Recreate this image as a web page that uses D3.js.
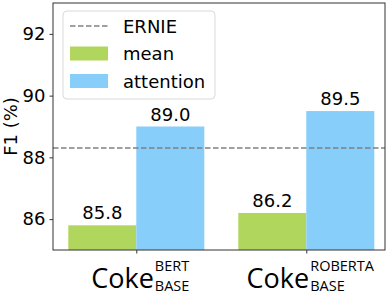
<!DOCTYPE html>
<html>
<head>
<meta charset="utf-8">
<script src="https://cdn.jsdelivr.net/npm/d3@7"></script>
<style>
  body { margin: 0; background: #fff; }
  svg { display: block; }
  .tick text { font-family: "DejaVu Sans"; font-size: 18px; fill: #000; }
</style>
</head>
<body>
<div id="chart"></div>
<script>
// data
const models = ["BERT", "ROBERTA"]
const series = ["mean", "attention"]
const meanValues = [85.8, 86.2]
const attentionValues = [89.0, 89.5]
const ernieValue = 88.3
const yTicks = [86, 88, 90, 92]
const colors = { mean: "#b1d65e", attention: "#87cefa" }

const W = 390, H = 301
const margin = { top: 3, right: 5, bottom: 51, left: 53 }
const width = W - margin.left - margin.right
const height = H - margin.top - margin.bottom

const svg = d3.select("#chart").append("svg")
    .attr("width", W)
    .attr("height", H)

const g = svg.append("g")
    .attr("transform", "translate(" + margin.left + "," + margin.top + ")")

const barW = 0.4
const xScale = d3.scaleLinear().domain([-0.49, 1.463]).range([0, width])
const yScale = d3.scaleLinear().domain([85, 93]).range([height, 0])

const rows = models.map((m, i) => ({ i: i, mean: meanValues[i], attention: attentionValues[i] }))

// bars
series.forEach((s, k) => {
    g.selectAll("rect.bar-" + s)
        .data(rows)
        .join("rect")
        .attr("class", "bar-" + s)
        .attr("x", d => xScale(d.i + (k - 1) * barW))
        .attr("width", xScale(barW) - xScale(0))
        .attr("y", d => yScale(d[s]))
        .attr("height", d => yScale(85) - yScale(d[s]))
        .attr("fill", colors[s])

    g.selectAll("text.val-" + s)
        .data(rows)
        .join("text")
        .attr("class", "val-" + s)
        .attr("x", d => xScale(d.i + (k - 0.5) * barW))
        .attr("y", d => yScale(d[s]) - 6)
        .attr("text-anchor", "middle")
        .style("font-family", "DejaVu Sans")
        .style("font-size", "18px")
        .text(d => d[s].toFixed(1))
})

// ERNIE line
g.append("line")
    .attr("x1", 0).attr("x2", width)
    .attr("y1", yScale(ernieValue)).attr("y2", yScale(ernieValue))
    .attr("stroke", "#808080")
    .attr("stroke-width", 1.5)
    .attr("stroke-dasharray", "5.5,2.5")

// axes
const yAxis = d3.axisLeft(yScale).tickValues(yTicks).tickSize(3.5).tickPadding(4)
g.append("g").call(yAxis)
    .call(a => a.select(".domain").remove())
    .call(a => a.selectAll(".tick line").attr("stroke", "#333"))

const xAxis = d3.axisBottom(xScale).tickValues([0, 1]).tickSize(3.5).tickFormat("")
g.append("g").attr("transform", "translate(0," + height + ")").call(xAxis)
    .call(a => a.select(".domain").remove())
    .call(a => a.selectAll(".tick line").attr("stroke", "#333"))

g.append("rect")
    .attr("width", width).attr("height", height)
    .attr("fill", "none").attr("stroke", "#333").attr("stroke-width", 1)

// x labels: Coke^{model}_{BASE}
models.forEach((m, i) => {
    const lab = g.append("g")
    const coke = lab.append("text")
        .attr("y", 0)
        .style("font-family", "Open Sans")
        .style("font-size", "27px")
        .text("Coke")
    const cw = coke.node().getComputedTextLength() + 1
    const sup = lab.append("text")
        .attr("x", cw).attr("y", -17)
        .style("font-family", "Open Sans")
        .style("font-size", "14.5px")
        .text(m)
    const sub = lab.append("text")
        .attr("x", cw).attr("y", 3)
        .style("font-family", "Open Sans")
        .style("font-size", "14.5px")
        .text("BASE")
    const total = cw + Math.max(sup.node().getComputedTextLength(), sub.node().getComputedTextLength())
    lab.attr("transform", "translate(" + (xScale(i) - total / 2 + 4) + "," + (height + 38) + ")")
})

// y label
svg.append("text")
    .attr("transform", "translate(17," + (margin.top + height / 2) + ") rotate(-90)")
    .attr("text-anchor", "middle")
    .style("font-family", "DejaVu Sans")
    .style("font-size", "18px")
    .text("F1 (%)")

// legend
const leg = g.append("g").attr("transform", "translate(10,8)")
leg.append("rect")
    .attr("width", 152).attr("height", 88)
    .attr("rx", 4)
    .attr("fill", "#fff").attr("fill-opacity", 0.8)
    .attr("stroke", "#d9d9d9")

const legItems = ["ERNIE"].concat(series)
legItems.forEach((name, j) => {
    const cy = 15 + j * 27.5
    if (name == "ERNIE") {
        leg.append("line")
            .attr("x1", 7).attr("x2", 45)
            .attr("y1", cy).attr("y2", cy)
            .attr("stroke", "#808080").attr("stroke-width", 1.5)
            .attr("stroke-dasharray", "5.5,2.5")
    } else {
        leg.append("rect")
            .attr("x", 7).attr("y", cy - 7)
            .attr("width", 38).attr("height", 14)
            .attr("fill", colors[name])
    }
    leg.append("text")
        .attr("x", 60).attr("y", cy + 6.5)
        .style("font-family", "DejaVu Sans")
        .style("font-size", "18px")
        .text(name)
})
</script>
</body>
</html>
